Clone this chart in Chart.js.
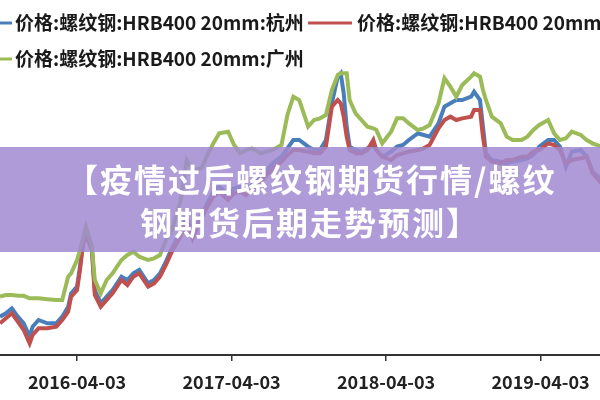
<!DOCTYPE html>
<html>
<head>
<meta charset="utf-8">
<script src="https://cdn.jsdelivr.net/npm/chart.js@4.4.0/dist/chart.umd.min.js"></script>
<style>
  html, body { margin: 0; padding: 0; background: #fff; }
  #wrap { position: relative; width: 600px; height: 400px; overflow: hidden; }
  #banner { position: absolute; left: 0; top: 147px; width: 600px; height: 105px; background: rgba(160,138,208,0.85); }
  .titulo { position: absolute; color: #fff; font-family: "Noto Sans CJK SC"; font-weight: 700;
            font-size: 32px; line-height: 32px; letter-spacing: 2px; white-space: nowrap; }
</style>
</head>
<body>
<div id="wrap">
  <canvas id="grafico" width="600" height="400"></canvas>
  <div id="banner">
    <div class="titulo" style="left:66px; top:15px;">【疫情过后螺纹钢期货行情/螺纹</div>
    <div class="titulo" style="left:140px; top:58px;">钢期货后期走势预测】</div>
  </div>
</div>
<script>
// semanas desde 2016-04-03
var semanas = [-26,-24,-22,-20,-18,-16,-15,-13,-10,-7,-5,-3,-2,0,1,2,3,5,6,8,
  10,12,15,17,19,21,24,26,28,30,32,35,37,39,42,44,46,48,51,53,
  55,57,59,62,64,66,69,71,73,75,78,80,82,84,86,88,89,90,91,92,
  94,96,98,100,101,103,106,108,110,112,115,117,119,122,124,126,128,130,133,134,
  136,137,138,140,143,145,147,150,152,154,156,159,161,163,165,167,170,172,174,177];

var hangzhou = [2060,2100,2160,2060,1980,1820,1940,2020,1980,1980,2060,2180,2340,2420,2660,2980,3100,2900,2380,2220,
  2300,2380,2540,2500,2580,2620,2460,2500,2580,2720,2880,3080,3260,3040,3280,3420,3560,3620,3520,3600,
  3620,3580,3640,3740,3820,3900,3980,4080,4180,4180,4100,4060,4060,4180,4620,4940,4980,4740,4340,4100,
  4060,4040,4080,4120,4060,3980,4040,4100,4120,4180,4260,4240,4220,4380,4580,4620,4660,4660,4700,4760,
  4660,4340,4020,3940,3920,3900,3920,3940,3960,4000,4100,4180,4180,4100,3860,4040,4060,3980,3800,3700];

var shanghai = [1980,2040,2100,2000,1900,1740,1840,1920,1920,1940,2020,2120,2300,2380,2620,2920,3040,2860,2320,2180,
  2260,2340,2500,2440,2540,2580,2420,2460,2540,2680,2840,3030,3220,3000,3240,3380,3500,3560,3460,3540,
  3560,3520,3580,3680,3760,3840,3920,4000,4060,4060,4040,4020,4020,4100,4580,4660,4620,4460,4220,4060,
  4020,4020,4060,4180,4060,3980,3940,4000,4020,4040,4060,4080,4120,4320,4420,4460,4420,4440,4460,4540,
  4540,4220,3980,3920,3900,3940,3940,3980,3980,4040,4060,4140,4120,4060,3900,3940,3960,3980,3780,3660];

var guangzhou = [2300,2320,2320,2310,2310,2280,2280,2280,2270,2260,2260,2540,2580,2740,2860,3000,3140,2900,2500,2340,
  2500,2580,2740,2800,2840,2780,2740,2760,2800,2980,3100,3460,3940,3820,3840,4000,4140,4260,4280,4120,
  4020,4060,4080,4020,4040,4060,4120,4480,4700,4660,4340,4420,4440,4480,4780,4960,4980,4980,4980,4660,
  4500,4420,4340,4320,4300,4140,4280,4440,4440,4380,4300,4320,4360,4620,4920,4820,4700,4840,4940,4980,
  4940,4780,4660,4460,4380,4220,4180,4180,4220,4300,4360,4420,4260,4180,4200,4280,4240,4180,4140,4100];

var nomes = ['价格:螺纹钢:HRB400 20mm:杭州', '价格:螺纹钢:HRB400 20mm:上海', '价格:螺纹钢:HRB400 20mm:广州'];
var cores = ['#4a7ebb', '#c0504d', '#9bbb59'];
var datasTicks = ['2016-04-03', '2017-04-03', '2018-04-03', '2019-04-03'];

var origem = Date.parse('2016-04-03');
var ticksSemana = datasTicks.map(function(d){ return (Date.parse(d) - origem) / (7 * 864e5); });

function pontos(valores) {
  return valores.map(function(v, i){ return {x: semanas[i], y: v}; });
}

// posicao da legenda (linha e texto) de cada serie
var legendaPos = [
  {x1: -20, x2: 12, tx: 15, y: 23},
  {x1: 308, x2: 352, tx: 357, y: 23},
  {x1: -20, x2: 12, tx: 15, y: 59}
];

var legendaPlugin = {
  id: 'legenda',
  afterDraw: function(chart) {
    var ctx = chart.ctx;
    ctx.save();
    ctx.font = 'bold 19px "Noto Sans CJK SC"';
    ctx.textBaseline = 'middle';
    ctx.fillStyle = '#1a1a1a';
    chart.data.datasets.forEach(function(ds, i) {
      var p = legendaPos[i];
      ctx.strokeStyle = ds.borderColor;
      ctx.lineWidth = 3;
      ctx.beginPath();
      ctx.moveTo(p.x1, p.y);
      ctx.lineTo(p.x2, p.y);
      ctx.stroke();
      ctx.fillText(ds.label, p.tx, p.y);
    });
    ctx.restore();
  }
};

var grafico = document.getElementById('grafico').getContext('2d');

var myChart = new Chart(grafico, {
  type: 'line',
  data: {
    datasets: [
      { label: nomes[0], data: pontos(hangzhou), borderColor: cores[0], order: 2 },
      { label: nomes[1], data: pontos(shanghai), borderColor: cores[1], order: 1 },
      { label: nomes[2], data: pontos(guangzhou), borderColor: cores[2], order: 0 }
    ]
  },
  options: {
    responsive: false,
    animation: false,
    layout: { padding: { top: 55, left: 0, right: 0, bottom: 0 } },
    elements: {
      line: { borderWidth: 4, tension: 0, fill: false },
      point: { radius: 0 }
    },
    plugins: {
      legend: { display: false },
      tooltip: { enabled: false }
    },
    scales: {
      x: {
        type: 'linear',
        min: -26,
        max: 176.5,
        afterBuildTicks: function(scale) {
          scale.ticks = ticksSemana.map(function(v){ return {value: v}; });
        },
        afterFit: function(scale) { scale.height = 45; },
        grid: { display: true, drawOnChartArea: false, drawTicks: true, tickLength: 6, color: '#333', lineWidth: 1.5 },
        border: { display: true, color: '#333', width: 2 },
        ticks: {
          padding: 10,
          maxRotation: 0,
          autoSkip: false,
          color: '#222',
          font: { family: '"Noto Sans CJK SC"', size: 18, weight: 'bold' },
          callback: function(value, index) { return datasTicks[index]; }
        }
      },
      y: {
        display: false,
        min: 1600,
        max: 5200
      }
    }
  },
  plugins: [legendaPlugin]
});
</script>
</body>
</html>
